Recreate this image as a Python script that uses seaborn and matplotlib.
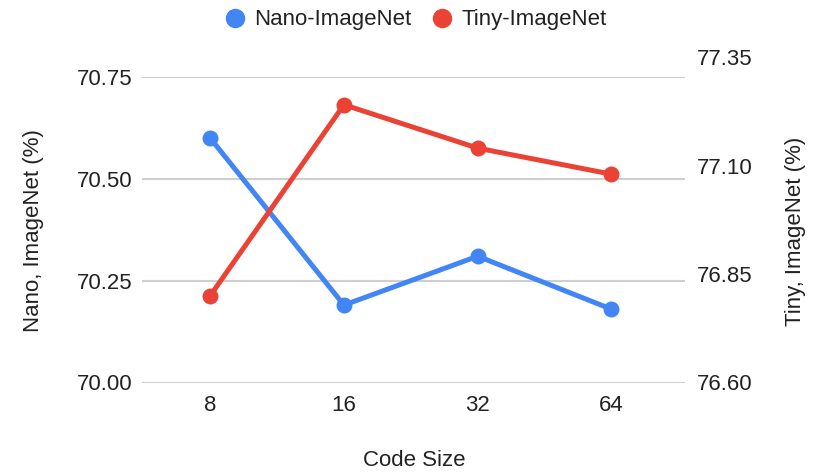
import matplotlib
matplotlib.use("Agg")
import matplotlib.pyplot as plt
import seaborn as sns
import pandas as pd
from matplotlib.lines import Line2D

# ---- data ----
code_sizes = ["8", "16", "32", "64"]
nano_vals = [70.60, 70.19, 70.31, 70.18]
tiny_vals = [76.80, 77.24, 77.14, 77.08]
left_ticks = [70.00, 70.25, 70.50, 70.75]
right_ticks = [76.60, 76.85, 77.10, 77.35]
series_names = ["Nano-ImageNet", "Tiny-ImageNet"]

BLUE = "#4285F4"
RED = "#EA4335"
TXT = "#222222"
GRID = "#cfcfcf"

sns.set_theme(style="white")
plt.rcParams["font.family"] = ["Liberation Sans", "DejaVu Sans"]
plt.rcParams["font.size"] = 16

W, H = 830, 475
fig = plt.figure(figsize=(W / 100, H / 100), dpi=100)

L, R = 142, 685
B, T1, T2 = 382.5, 77, 57
ax = fig.add_axes([L / W, 1 - B / H, (R - L) / W, (B - T1) / H])
ax2 = fig.add_axes([L / W, 1 - B / H, (R - L) / W, (B - T2) / H])
ax2.patch.set_alpha(0)

df_n = pd.DataFrame({"x": code_sizes, "y": nano_vals})
df_t = pd.DataFrame({"x": code_sizes, "y": tiny_vals})

sns.lineplot(data=df_n, x="x", y="y", ax=ax, color=BLUE, lw=3.6,
             marker="o", markersize=11.5, markeredgewidth=0, sort=False)
sns.lineplot(data=df_t, x="x", y="y", ax=ax2, color=RED, lw=3.6,
             marker="o", markersize=11.5, markeredgewidth=0, sort=False)

for a in (ax, ax2):
    a.set_xlim(-0.51, 3.55)
    for s in a.spines.values():
        s.set_visible(False)
    a.set_xlabel("")
    a.set_ylabel("")

ax.set_ylim(left_ticks[0], left_ticks[-1])
ax.set_yticks(left_ticks)
ax.set_yticklabels([f"{v:.2f}" for v in left_ticks])
ax.grid(axis="y", color=GRID, lw=1.5)
ax.grid(axis="x", visible=False)
ax.tick_params(axis="y", length=0, pad=7, labelcolor=TXT, labelsize=16)
ax.tick_params(axis="x", length=0, pad=9, labelcolor=TXT, labelsize=16)

ax2.set_ylim(right_ticks[0], right_ticks[-1])
ax2.set_yticks(right_ticks)
ax2.set_yticklabels([f"{v:.2f}" for v in right_ticks])
ax2.yaxis.tick_right()
ax2.tick_params(axis="y", length=0, pad=8.5, labelcolor=TXT, labelsize=16)
ax2.xaxis.set_visible(False)
ax2.grid(False)

fig.text(33 / W, 1 - 231 / H, "Nano, ImageNet (%)", rotation=90,
         ha="center", va="center", color=TXT, fontsize=16)
fig.text(795 / W, 1 - 231 / H, "Tiny, ImageNet (%)", rotation=90,
         ha="center", va="center", color=TXT, fontsize=16)
fig.text(414 / W, 1 - 460 / H, "Code Size", ha="center", va="center",
         color=TXT, fontsize=16)

handles = [Line2D([], [], ls="none", marker="o", color=BLUE, markersize=13),
           Line2D([], [], ls="none", marker="o", color=RED, markersize=13)]
fig.legend(handles, series_names, loc="center", bbox_to_anchor=(415 / W, 1 - 20 / H),
           ncol=2, frameon=False, handletextpad=0.36, columnspacing=0.9,
           fontsize=16, labelcolor=TXT, handlelength=1.0)

fig.savefig("out.png", dpi=100)
